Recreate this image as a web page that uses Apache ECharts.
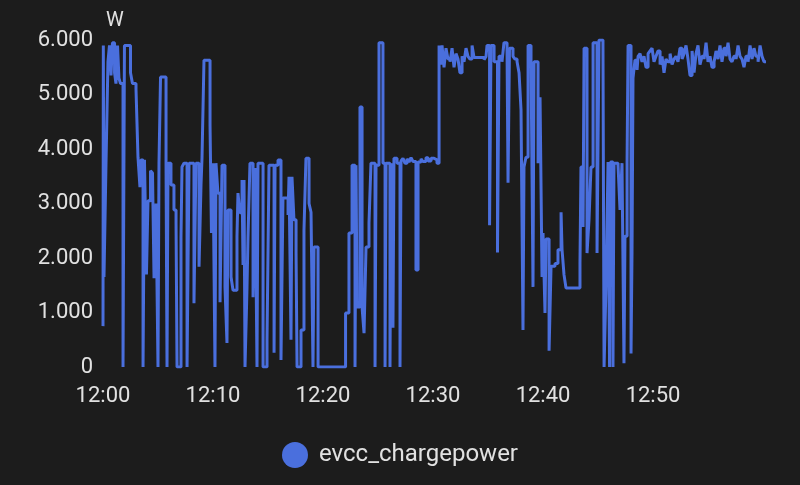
<!DOCTYPE html>
<html><head><meta charset="utf-8">
<script src="https://cdn.jsdelivr.net/npm/echarts@6/dist/echarts.min.js"></script>
<style>html,body{margin:0;background:#1c1c1c}#c{width:800px;height:485px}</style>
</head><body><div id="c"></div>
<script>
const seriesName = 'evcc_chargepower';
const unitName = 'W';
const xTickMinutes = [0, 10, 20, 30, 40, 50];
const yTicks = [0, 1000, 2000, 3000, 4000, 5000, 6000];
// minutes after 12:00
const minutes = [
0,0.03,0.09,0.27,0.45,0.59,0.73,0.86,1.05,1.18,
1.32,1.45,1.59,1.82,1.95,2.5,2.68,3.0,3.18,3.36,
3.45,3.64,3.77,3.95,4.09,4.32,4.5,4.64,4.82,5.0,
5.09,5.23,5.36,5.73,5.82,5.91,6.18,6.45,6.64,6.73,
7.09,7.18,7.36,7.64,7.82,8.27,8.45,8.73,8.91,9.0,
9.18,9.36,9.73,9.86,10.0,10.18,10.27,10.45,10.64,10.82,
11.09,11.27,11.36,11.64,11.82,12.18,12.27,12.45,12.64,12.73,
12.82,12.91,13.09,13.18,13.36,13.64,13.82,14.0,14.09,14.55,
14.91,15.09,15.55,15.64,15.91,16.18,16.36,16.82,16.91,17.09,
17.18,17.36,17.55,17.64,18.0,18.27,18.45,18.73,18.91,19.09,
19.18,19.55,22.05,22.36,22.64,22.91,23.0,23.09,23.36,23.55,
23.73,23.91,24.18,24.36,24.73,24.82,25.09,25.45,25.64,25.73,
26.09,26.18,26.36,26.45,26.73,27.0,27.09,27.27,27.45,27.64,
27.82,28.0,28.18,28.45,28.64,28.91,29.09,29.36,29.55,29.82,
30.09,30.36,30.55,30.73,30.82,31.0,31.18,31.36,31.55,31.73,
31.91,32.09,32.27,32.45,32.64,32.82,33.0,33.18,33.36,33.55,
33.73,34.64,34.82,34.91,35.14,35.27,35.55,35.86,36.0,36.27,
36.45,36.73,36.82,36.95,37.27,37.45,37.64,37.82,38.0,38.18,
38.27,38.45,38.64,38.91,39.09,39.18,39.55,39.73,39.91,40.0,
40.18,40.27,40.55,40.73,41.09,41.36,41.64,41.73,41.91,42.09,
43.36,43.45,43.64,43.73,44.0,44.18,44.36,44.55,44.91,45.09,
45.45,45.55,45.73,45.91,46.05,46.14,46.36,46.45,46.82,47.0,
47.18,47.36,47.45,47.64,47.73,48.0,48.09,48.18,48.36,48.55,
48.64,48.82,49.0,49.18,49.36,49.55,49.73,49.91,50.09,50.27,
50.45,50.64,50.82,51.0,51.18,51.36,51.55,51.73,51.91,52.09,
52.27,52.45,52.64,52.82,53.0,53.18,53.36,53.55,53.73,53.91,
54.09,54.27,54.45,54.64,54.82,55.0,55.18,55.36,55.55,55.73,
55.91,56.09,56.27,56.45,56.64,56.82,57.0,57.18,57.36,57.55,
57.73,57.91,58.09,58.27,58.45,58.64,58.82,59.0,59.18,59.36,
59.55,59.73,59.91,60.09,60.27
];
const watts = [
750,5900,1650,3700,5600,5900,5350,5950,5400,5200,
5900,5300,5200,0,5900,5400,5200,5100,3850,3300,
3800,0,3800,1700,3050,3600,3560,1630,3000,0,
3740,5320,5320,3740,0,3740,3340,2880,2640,0,
2370,3670,3740,0,3740,1170,3740,1840,3340,3830,
5630,5630,4440,2460,3740,0,3740,3190,1190,3700,
1470,440,2880,1650,1410,2390,3190,2830,3430,1870,
3430,0,1450,2370,3740,1280,3650,0,3740,0,
500,3700,260,3700,3800,130,3100,2790,3490,500,
3490,2700,2090,0,680,2510,3830,3000,2840,0,
2200,0,990,2460,3700,0,3700,1100,4770,1100,
620,2200,2640,3740,0,3700,5950,3740,0,3740,
0,3740,720,3830,3740,0,3780,3830,3740,3820,
3760,3840,3770,1780,3760,3820,3770,3840,3780,3830,
3800,3740,5900,5550,5900,5500,5850,5650,5600,5850,
5500,5750,5650,5400,5700,5600,5850,5700,5650,5900,
5680,5640,5700,5900,2600,5900,5600,2100,5700,5600,
5950,5800,3380,5850,5700,5650,5600,5400,4720,680,
3670,3850,5900,5600,1470,5600,3740,4950,1650,2460,
990,2350,300,1850,1900,2150,2840,2150,1690,1450,
1900,3670,2570,5850,2090,2700,3670,5950,2090,6000,
5900,0,1540,3760,0,3760,0,3740,3700,2880,
3740,70,2400,3740,5900,250,2100,5300,5630,5450,
5700,5750,5600,5700,5500,5750,5800,5850,5600,5700,
5800,5550,5700,5400,5650,5600,5750,5550,5650,5700,
5600,5850,5650,5750,5900,5650,5350,5800,5400,5750,
5900,5550,5700,5650,5950,5600,5700,5500,5600,5800,
5650,5900,5600,5850,5700,5950,5650,5600,5700,5650,
5900,5700,5650,5500,5700,5600,5900,5650,5850,5700,
5600,5900,5700,5600,5600
];

const textColor = '#e1e1e1';
const font = 'Roboto, "Noto Sans", sans-serif';
const fmtW = v => v >= 1000 ? Math.floor(v / 1000) + '.' + String(v % 1000).padStart(3, '0') : String(v);
const fmtT = v => xTickMinutes.includes(v) ? '12:' + String(v).padStart(2, '0') : '';

const chart = echarts.init(document.getElementById('c'), null, {renderer: 'canvas'});
chart.setOption({
  backgroundColor: '#1c1c1c',
  animation: false,
  grid: {left: 103, right: 34, top: 40, bottom: 118},
  legend: {
    bottom: 12, left: 'center',
    icon: 'circle', itemWidth: 26, itemHeight: 26, itemGap: 10,
    textStyle: {color: textColor, fontSize: 24, fontFamily: font, padding: [0, 0, 0, 6]},
    data: [seriesName]
  },
  xAxis: {
    type: 'value', min: 0, max: minutes[minutes.length - 1], interval: 10,
    axisLine: {show: false}, axisTick: {show: false}, splitLine: {show: false},
    axisLabel: {color: textColor, fontSize: 22, fontFamily: font, margin: 18, formatter: fmtT, showMaxLabel: false}
  },
  yAxis: {
    type: 'value', min: yTicks[0], max: yTicks[yTicks.length - 1], interval: 1000,
    name: unitName, nameGap: 9,
    nameTextStyle: {color: textColor, fontSize: 20, fontFamily: font, align: 'left', padding: [0, 0, 0, 3]},
    axisLine: {show: false}, axisTick: {show: false}, splitLine: {show: false},
    axisLabel: {color: textColor, fontSize: 22, fontFamily: font, margin: 10, formatter: fmtW}
  },
  series: [{
    name: seriesName, type: 'line', step: 'end', showSymbol: false,
    color: '#4a6fdd',
    lineStyle: {width: 3, color: '#4a6fdd'},
    data: minutes.map((m, i) => [m, watts[i]])
  }]
});
</script></body></html>
